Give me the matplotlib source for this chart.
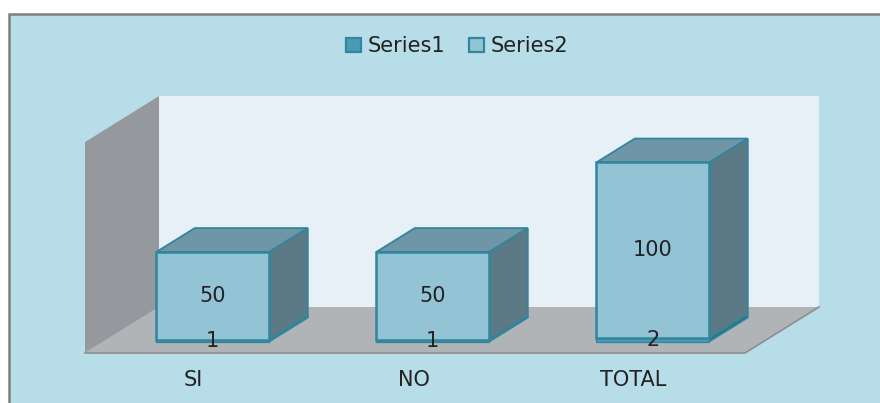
import matplotlib
matplotlib.use('Agg')
import matplotlib.pyplot as plt
import matplotlib.patches as patches

categories = ['SI', 'NO', 'TOTAL']
series1 = [1, 1, 2]
series2 = [50, 50, 100]
series_names = ['Series1', 'Series2']

# colours for the box faces: front, top, side
colors1 = ('#4a9ab5', '#3a7a90', '#33697b')
colors2 = ('#92c4d6', '#6f96a6', '#5b7a85')
edge = '#31859c'
text_color = '#222222'

# scale of the front plane, in pixels
W, H = 880, 403
px_per_cat = 220
px_per_unit = 1.755
x0_px, y0_px = 195, 353

# oblique depth of the floor
depth_x = 74 / px_per_cat
depth_y = 46 / px_per_unit
bar_width = 113 / px_per_cat
bar_shift = -0.7 / px_per_cat
z_front, z_back = 0.25, 0.77
wall_height = 120.2

fig = plt.figure(figsize=(W / 100, H / 100), dpi=100, facecolor='white')
ax = fig.add_axes([0, 0, 1, 1])
ax.set_xlim(-x0_px / px_per_cat, (W - x0_px) / px_per_cat)
ax.set_ylim((y0_px - H) / px_per_unit, y0_px / px_per_unit)
ax.axis('off')


def proj(x, y, z):
    return (x + depth_x * z, y + depth_y * z)


def poly(pts, color, ec='none', lw=0, zorder=2):
    p = patches.Polygon(pts, closed=True, facecolor=color, edgecolor=ec,
                        linewidth=lw, joinstyle='miter', zorder=zorder)
    ax.add_patch(p)
    return p


def box(xc, y1, y2, faces, zorder, lw=1.8):
    xl, xr = xc - bar_width / 2, xc + bar_width / 2
    front, top, side = faces
    poly([proj(xl, y2, z_front), proj(xr, y2, z_front),
          proj(xr, y2, z_back), proj(xl, y2, z_back)], top, edge, 1.3, zorder)
    poly([proj(xr, y1, z_front), proj(xr, y1, z_back),
          proj(xr, y2, z_back), proj(xr, y2, z_front)], side, edge, 1.3, zorder)
    poly([proj(xl, y1, z_front), proj(xr, y1, z_front),
          proj(xr, y2, z_front), proj(xl, y2, z_front)], front, edge, lw, zorder)


# chart area with its gray frame
frame = patches.Rectangle((8.5 / W, -0.05), (W + 20) / W, 1 - 13.5 / H + 0.05,
                          transform=ax.transAxes, facecolor='#b7dde8',
                          edgecolor='#7f7f7f', linewidth=1.8, zorder=0)
ax.add_patch(frame)

# walls and floor
x_min, x_max = -0.5, len(categories) - 0.5
poly([proj(x_min, 0, 1), proj(x_max, 0, 1),
      proj(x_max, wall_height, 1), proj(x_min, wall_height, 1)], '#e8f0f7', zorder=1)
poly([proj(x_min, 0, 0), proj(x_min, 0, 1),
      proj(x_min, wall_height, 1), proj(x_min, wall_height, 0)], '#95989c', zorder=1)
poly([proj(x_min, 0, 0), proj(x_max, 0, 0),
      proj(x_max, 0, 1), proj(x_min, 0, 1)], '#b1b4b7', zorder=1)
ax.plot([proj(x_min, 0, 0)[0], proj(x_max, 0, 0)[0], proj(x_max, 0, 1)[0]],
        [proj(x_min, 0, 0)[1], proj(x_max, 0, 0)[1], proj(x_max, 0, 1)[1]],
        color='#8c8e90', lw=1.2, zorder=1.5)

# stacked boxes with their value labels
for i, cat in enumerate(categories):
    xc = i + bar_shift
    base = proj(xc, 0, z_front)
    box(xc, 0, series1[i], colors1, 3, lw=0.9)
    box(xc, series1[i], series1[i] + series2[i], colors2, 4)
    ax.text(base[0], base[1] + series1[i] / 2, str(series1[i]), ha='center', va='center',
            fontsize=15, color=text_color, zorder=6)
    ax.text(base[0], base[1] + series1[i] + series2[i] / 2, str(series2[i]), ha='center',
            va='center', fontsize=15, color=text_color, zorder=6)
    ax.text(i - 0.006, -27 / px_per_unit, cat, ha='center', va='center',
            fontsize=15, color=text_color, zorder=6)

handles = [patches.Patch(facecolor=colors1[0], edgecolor=edge, linewidth=1.6),
           patches.Patch(facecolor=colors2[0], edgecolor=edge, linewidth=1.6)]
ax.legend(handles, series_names, loc='center', bbox_to_anchor=(457 / W, 1 - 46 / H),
          ncol=2, frameon=False, fontsize=15, handlelength=0.72, handleheight=0.65,
          handletextpad=0.3, columnspacing=1.15, labelcolor=text_color)

fig.savefig('out.png', dpi=100, facecolor='white')
